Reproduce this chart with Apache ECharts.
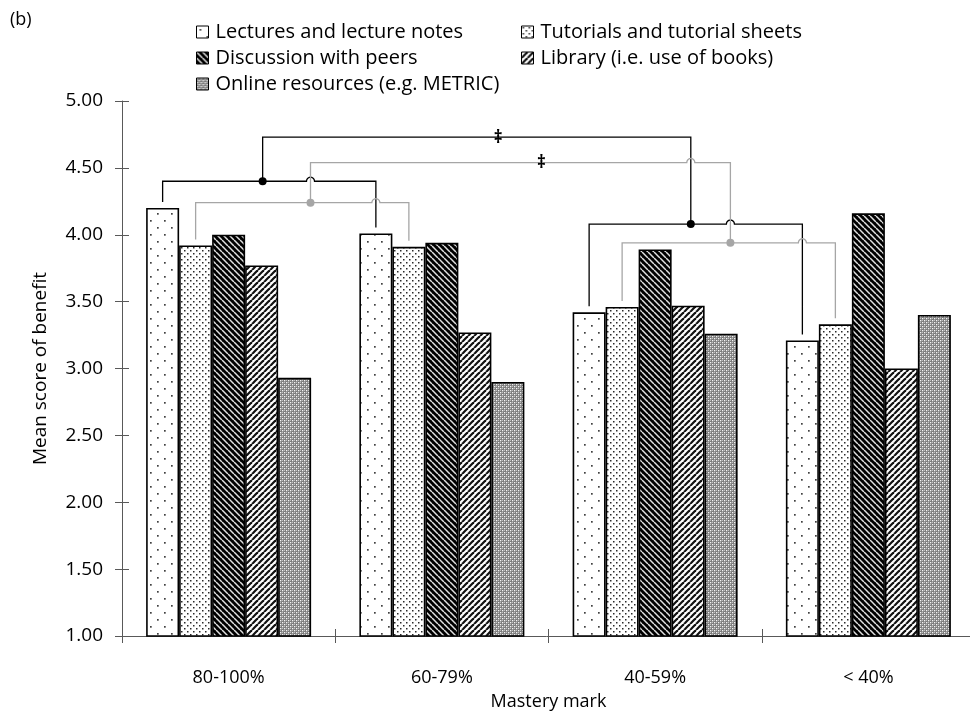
<!DOCTYPE html>
<html>
<head>
<meta charset="utf-8">
<script src="https://cdn.jsdelivr.net/npm/echarts@6/dist/echarts.min.js"></script>
<style>
  html, body { margin: 0; padding: 0; background: #fff; }
  #chart { width: 970px; height: 714px; }
</style>
</head>
<body>
<div id="chart"></div>
<script>
// Mastery-mark groups on the x axis
const categories = ['80-100%', '60-79%', '40-59%', '< 40%'];

// Learning resources (one bar series each)
const seriesNames = [
  'Lectures and lecture notes',
  'Tutorials and tutorial sheets',
  'Discussion with peers',
  'Library (i.e. use of books)',
  'Online resources (e.g. METRIC)'
];

// Mean score of benefit per mastery group
const lectures   = [4.20, 4.01, 3.42, 3.21];
const tutorials  = [3.92, 3.91, 3.46, 3.33];
const discussion = [4.00, 3.94, 3.89, 4.16];
const library    = [3.77, 3.27, 3.47, 3.00];
const online     = [2.93, 2.90, 3.26, 3.40];

// Value axis
const yMin = 1.0;
const yMax = 5.0;
const yStep = 0.5;

// Significance brackets: series, first and second category, bracket level
const bracketSeries = [0, 1, 0, 1];
const bracketFrom   = [0, 0, 2, 2];
const bracketTo     = [1, 1, 3, 3];
const bracketLevel  = [4.40, 4.24, 4.08, 3.94];
// Links joining bracket 0 with 2 and bracket 1 with 3, and their levels
const linkPairs  = [[0, 2], [1, 3]];
const linkLevel  = [4.73, 4.54];
const linkMarker = '‡';

const seriesData = [lectures, tutorials, discussion, library, online];

const FONT = '"Open Sans", "Liberation Sans", Arial, sans-serif';
const BAR_W = 33;
const AXIS_COLOR = '#595959';
const LINK_COLORS = ['#000000', '#a6a6a6', '#000000', '#a6a6a6'];

// ---- fill patterns -------------------------------------------------------
function tile(w, h, draw) {
  const c = document.createElement('canvas');
  c.width = w; c.height = h;
  const g = c.getContext('2d');
  draw(g, w, h);
  return { image: c, repeat: 'repeat' };
}
function diagonal(g, s, dir) {
  for (let k = -s; k <= s; k += s) {
    g.beginPath();
    if (dir > 0) { g.moveTo(k, 0); g.lineTo(k + s, s); }
    else { g.moveTo(k + s, 0); g.lineTo(k, s); }
    g.stroke();
  }
}
const patterns = [
  // sparse dots
  tile(14, 14, (g, w, h) => {
    g.fillStyle = '#fff'; g.fillRect(0, 0, w, h);
    g.fillStyle = '#404040';
    g.fillRect(3, 3, 1.7, 1.7);
    g.fillRect(10, 10, 1.7, 1.7);
  }),
  // dense dots
  tile(6, 6, (g, w, h) => {
    g.fillStyle = '#fff'; g.fillRect(0, 0, w, h);
    g.fillStyle = '#2a2a2a';
    g.fillRect(1, 1, 1.5, 1.5);
    g.fillRect(4, 4, 1.5, 1.5);
  }),
  // dark downward diagonal
  tile(6, 6, (g, w, h) => {
    g.fillStyle = '#000'; g.fillRect(0, 0, w, h);
    g.strokeStyle = '#e0e0e0'; g.lineWidth = 1.5;
    diagonal(g, 6, 1);
  }),
  // wide upward diagonal
  tile(6, 6, (g, w, h) => {
    g.fillStyle = '#fff'; g.fillRect(0, 0, w, h);
    g.strokeStyle = '#111'; g.lineWidth = 2.2;
    diagonal(g, 6, -1);
  }),
  // gray crosshatch
  tile(4, 4, (g, w, h) => {
    g.fillStyle = '#7c7c7c'; g.fillRect(0, 0, w, h);
    g.fillStyle = '#f4f4f4';
    g.fillRect(0, 0, 1.3, 1.3);
    g.fillRect(2, 2, 1.3, 1.3);
    g.fillStyle = '#c0c0c0';
    g.fillRect(2, 0, 1, 1);
    g.fillRect(0, 2, 1, 1);
  })
];

// ---- chart ---------------------------------------------------------------
const chart = echarts.init(document.getElementById('chart'), null, { renderer: 'canvas' });

const legendSlots = [[196, 22], [521, 22], [196, 48], [521, 48], [196, 74]];

const option = {
  animation: false,
  backgroundColor: '#fff',
  textStyle: { fontFamily: FONT, color: '#000' },
  grid: {
    left: 122, right: -5, top: 101, bottom: 78,
    containLabel: false,
    outerBoundsMode: 'none'
  },
  legend: seriesNames.map((name, i) => ({
    data: [name],
    left: legendSlots[i][0],
    top: legendSlots[i][1],
    padding: 0,
    itemWidth: 12,
    itemHeight: 12,
    icon: 'rect',
    selectedMode: false,
    itemStyle: { borderColor: '#000', borderWidth: 1 },
    textStyle: { fontFamily: FONT, fontSize: 20, color: '#000', padding: [0, 0, 0, 2] }
  })),
  xAxis: [
    {
      type: 'category',
      data: categories,
      name: 'Mastery mark',
      nameLocation: 'middle',
      nameGap: 57,
      nameTextStyle: { fontFamily: FONT, fontSize: 18, color: '#000' },
      axisLine: { lineStyle: { color: AXIS_COLOR, width: 1 } },
      axisTick: { show: true, length: 7, lineStyle: { color: AXIS_COLOR } },
      axisLabel: { margin: 33, fontFamily: FONT, fontSize: 18, color: '#000' },
      splitLine: { show: false }
    },
    {
      type: 'category',
      data: categories,
      position: 'bottom',
      axisLine: { show: false },
      axisTick: { show: true, inside: true, length: 7, lineStyle: { color: AXIS_COLOR } },
      axisLabel: { show: false },
      splitLine: { show: false }
    }
  ],
  yAxis: [
    {
      type: 'value',
      min: yMin,
      max: yMax,
      interval: yStep,
      name: 'Mean score of benefit',
      nameLocation: 'middle',
      nameRotate: 90,
      nameGap: 72,
      nameTextStyle: { fontFamily: FONT, fontSize: 19, color: '#000' },
      axisLine: { show: true, lineStyle: { color: AXIS_COLOR, width: 1 } },
      axisTick: { show: true, length: 7, lineStyle: { color: AXIS_COLOR } },
      axisLabel: {
        margin: 19,
        fontFamily: FONT,
        fontSize: 19,
        color: '#000',
        formatter: v => v.toFixed(2)
      },
      splitLine: { show: false }
    },
    {
      type: 'value',
      min: yMin,
      max: yMax,
      interval: yStep,
      position: 'left',
      axisLine: { show: false },
      axisTick: { show: true, inside: true, length: 7, lineStyle: { color: AXIS_COLOR } },
      axisLabel: { show: false },
      splitLine: { show: false }
    }
  ],
  series: seriesNames.map((name, i) => ({
    name: name,
    type: 'bar',
    data: seriesData[i],
    barWidth: BAR_W,
    barGap: '0%',
    itemStyle: {
      color: patterns[i],
      borderColor: '#000',
      borderWidth: 1.6
    }
  }))
};

chart.setOption(option);

// ---- significance brackets ---------------------------------------------------
const px = (cat, s) =>
  chart.convertToPixel({ xAxisIndex: 0 }, categories[cat]) + (s - (seriesNames.length - 1) / 2) * BAR_W;
const py = v => chart.convertToPixel({ yAxisIndex: 0 }, v);

const HOP_R = 4;
const LEG_GAP = 6;
const DOT_SHIFT = [-0.2, 0.25, -0.15, 0.05];

// Geometry of each bracket
const brk = bracketSeries.map((s, i) => {
  const xa = px(bracketFrom[i], s);
  const xb = px(bracketTo[i], s);
  return {
    color: LINK_COLORS[i],
    xa, xb,
    y: py(bracketLevel[i]),
    ya: py(seriesData[s][bracketFrom[i]]) - LEG_GAP,
    yb: py(seriesData[s][bracketTo[i]]) - LEG_GAP,
    xd: (xa + xb) / 2 + DOT_SHIFT[i] * BAR_W
  };
});
const lnk = linkPairs.map(([a, b], i) => ({
  color: brk[a].color,
  a: brk[a], b: brk[b],
  y: py(linkLevel[i])
}));

// All vertical strokes, used to place hops on the horizontal strokes
const verticals = [];
brk.forEach(b => {
  verticals.push({ x: b.xa, y1: b.y, y2: b.ya, color: b.color });
  verticals.push({ x: b.xb, y1: b.y, y2: b.yb, color: b.color });
});
lnk.forEach(l => {
  verticals.push({ x: l.a.xd, y1: l.y, y2: l.a.y, color: l.color });
  verticals.push({ x: l.b.xd, y1: l.y, y2: l.b.y, color: l.color });
});

// Points of a horizontal stroke that hops over crossing strokes of the other colour
function horizontal(x1, x2, y, color) {
  const hops = verticals
    .filter(v => v.color !== color && v.x > x1 + 1 && v.x < x2 - 1 &&
                 y > Math.min(v.y1, v.y2) + 1 && y < Math.max(v.y1, v.y2) - 1)
    .map(v => v.x)
    .sort((a, b) => a - b);
  const pts = [];
  const N = 10;
  hops.forEach(h => {
    for (let t = 0; t <= N; t++) {
      const a = Math.PI - (t / N) * Math.PI;
      pts.push([h + HOP_R * Math.cos(a), y - HOP_R * Math.sin(a)]);
    }
  });
  pts.push([x2, y]);
  return pts;
}

const graphics = [];
const strokeOf = color => ({ fill: null, stroke: color, lineWidth: 1.3 });

brk.forEach(b => {
  const pts = [[b.xa, b.ya], [b.xa, b.y]]
    .concat(horizontal(b.xa, b.xb, b.y, b.color))
    .concat([[b.xb, b.yb]]);
  graphics.push({ type: 'polyline', z: 100, shape: { points: pts }, style: strokeOf(b.color) });
});
lnk.forEach(l => {
  const pts = [[l.a.xd, l.a.y], [l.a.xd, l.y]]
    .concat(horizontal(l.a.xd, l.b.xd, l.y, l.color))
    .concat([[l.b.xd, l.b.y]]);
  graphics.push({ type: 'polyline', z: 100, shape: { points: pts }, style: strokeOf(l.color) });
  graphics.push({
    type: 'text', z: 102,
    x: l.a.xd + (l.b.xd - l.a.xd) * 0.55,
    y: l.y + 1,
    style: {
      text: linkMarker, fill: '#000', font: `bold 17px ${FONT}`,
      align: 'center', verticalAlign: 'middle'
    }
  });
});
brk.forEach(b => {
  graphics.push({
    type: 'circle', z: 101,
    shape: { cx: b.xd, cy: b.y, r: 4 },
    style: { fill: b.color, stroke: null }
  });
});
graphics.push({
  type: 'text', left: 10, top: 11,
  style: { text: '(b)', fill: '#000', font: `18px ${FONT}` }
});

chart.setOption({ graphic: graphics });
</script>
</body>
</html>
